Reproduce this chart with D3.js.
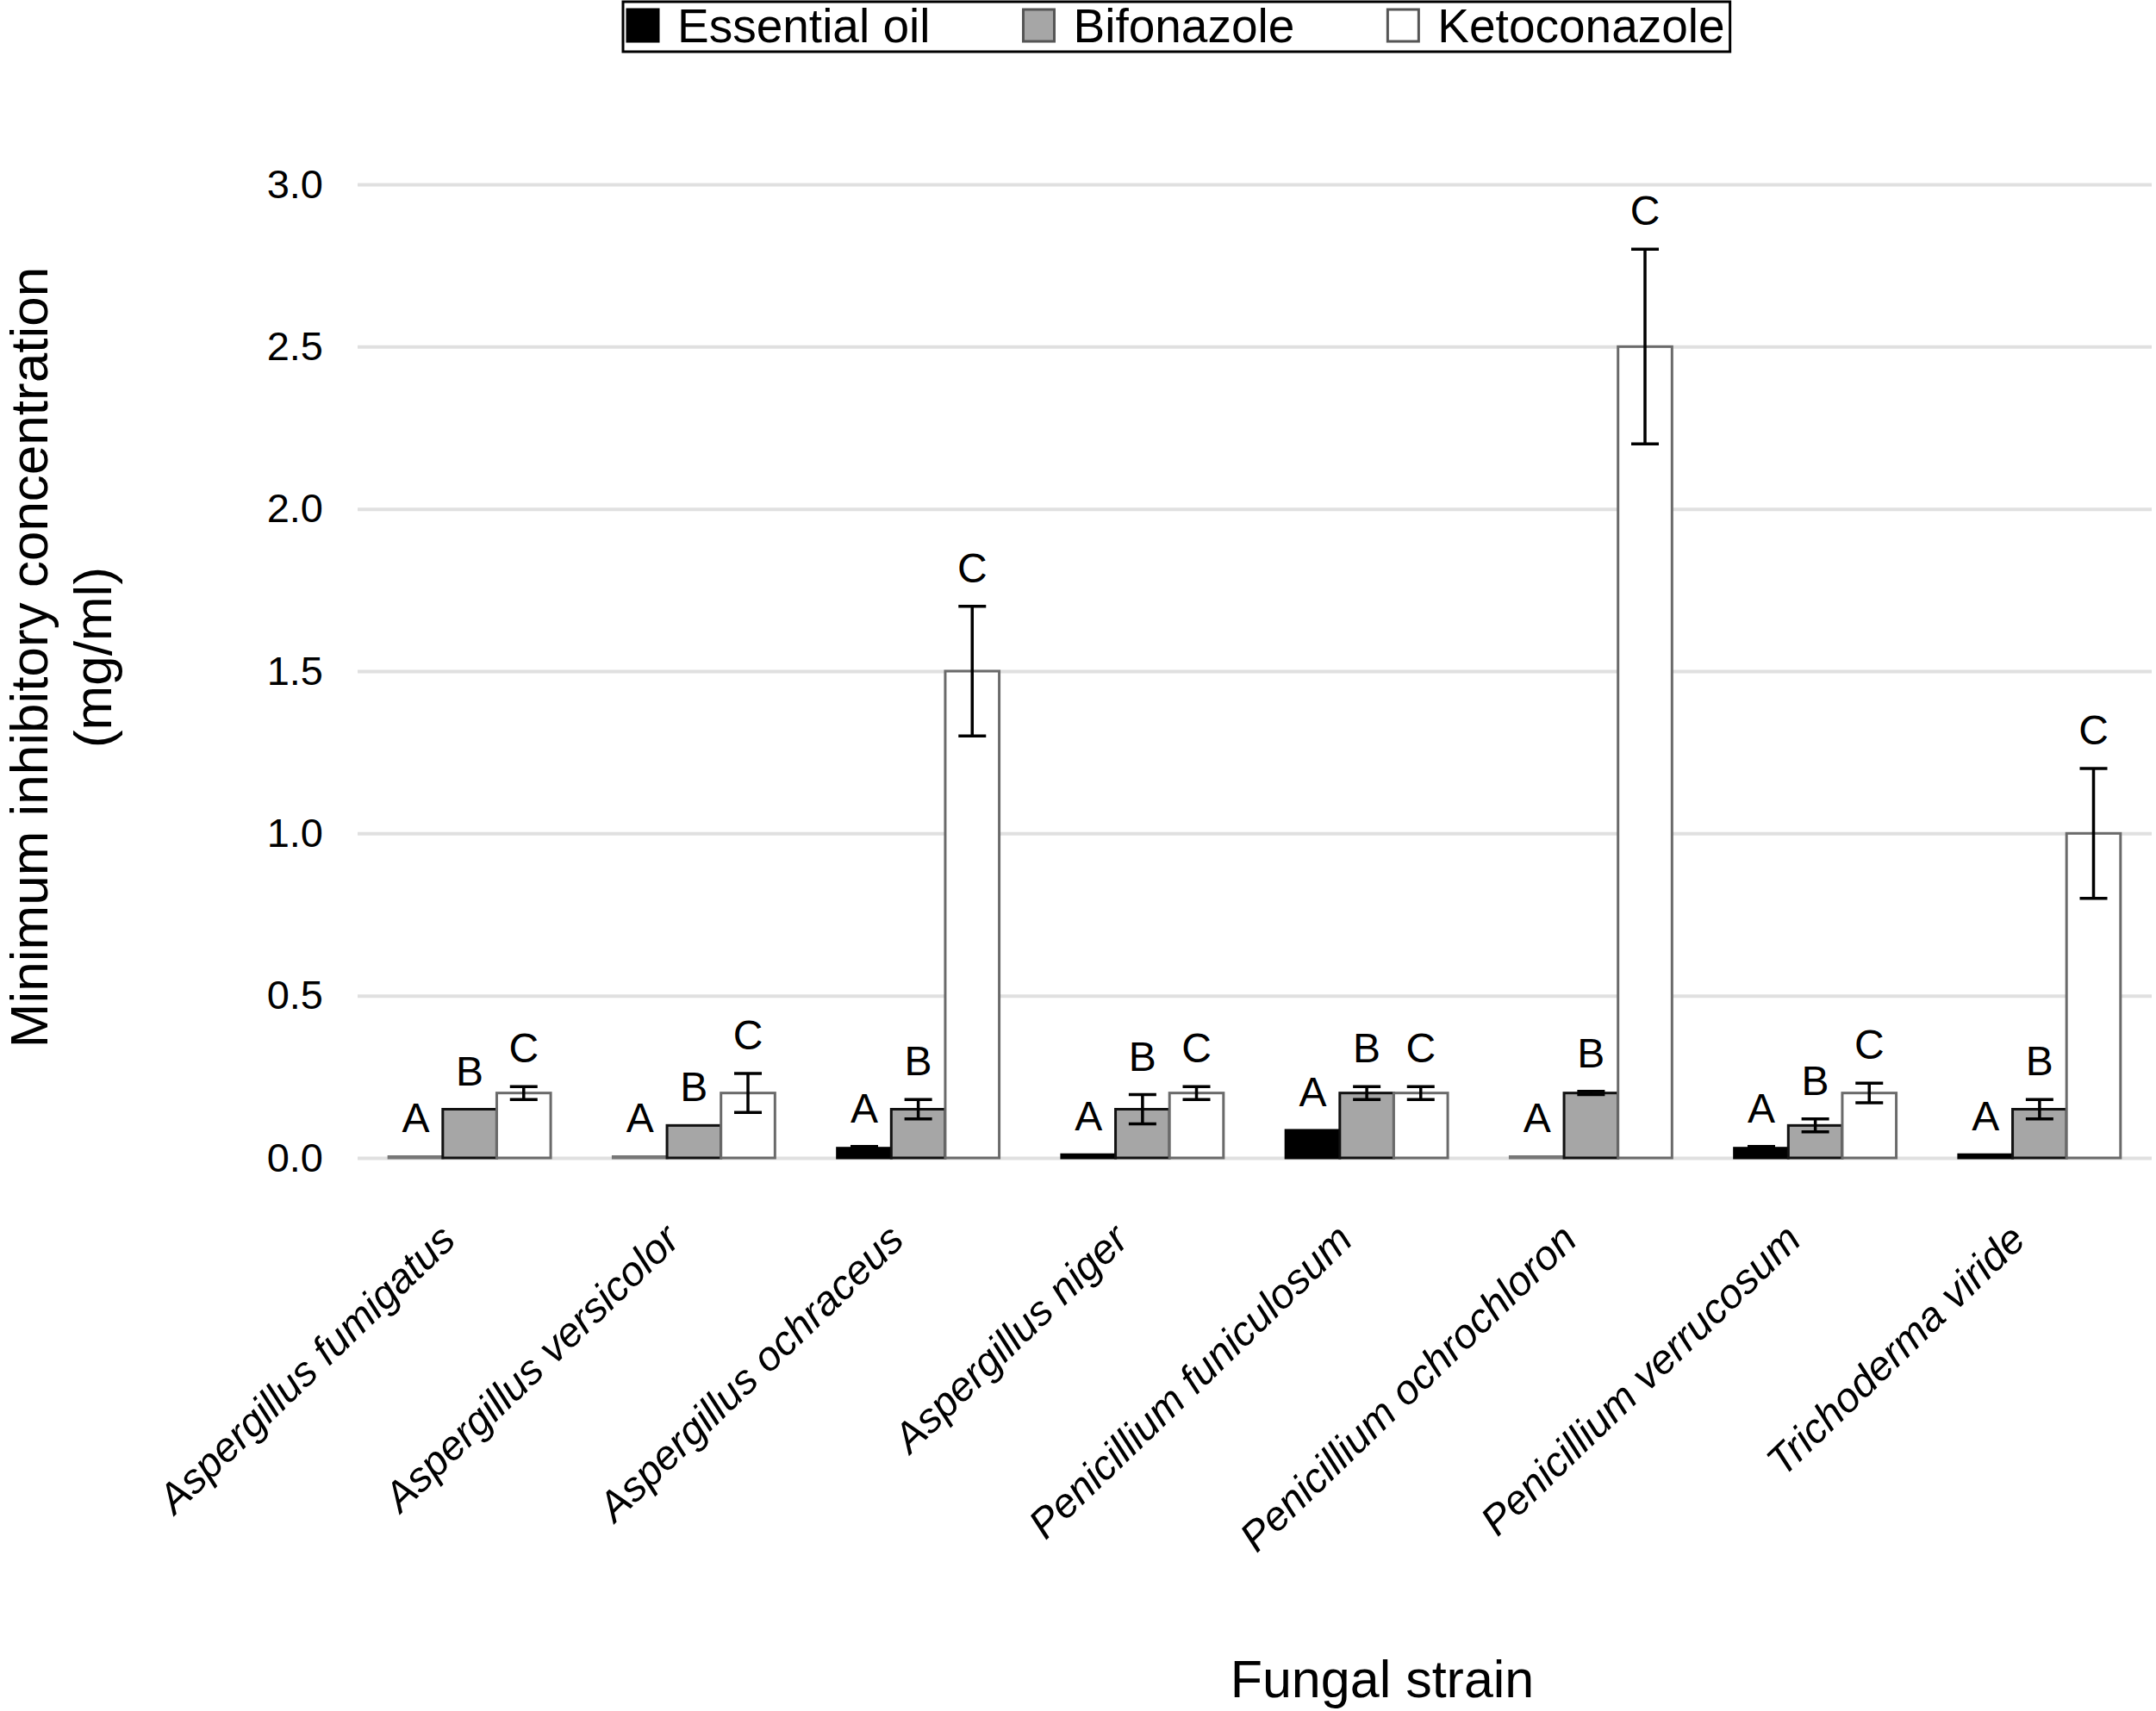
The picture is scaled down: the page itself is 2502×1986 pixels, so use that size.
<!DOCTYPE html>
<html>
<head>
<meta charset="utf-8">
<script src="https://cdn.jsdelivr.net/npm/d3@7"></script>
<style>
  body { margin: 0; background: #fff; }
  text { font-family: "Liberation Sans", Arial, sans-serif; fill: #000; }
</style>
</head>
<body>
<svg width="2502" height="1986"></svg>
<script>
// data
const categories = ['Aspergillus fumigatus', 'Aspergillus versicolor', 'Aspergillus ochraceus', 'Aspergillus niger',
  'Penicillium funiculosum', 'Penicillium ochrochloron', 'Penicillium verrucosum', 'Trichoderma viride']
const series = ['Essential oil', 'Bifonazole', 'Ketoconazole']
const essentialOil = [0.004, 0.004, 0.03, 0.01, 0.085, 0.004, 0.03, 0.01]
const bifonazole = [0.15, 0.1, 0.15, 0.15, 0.2, 0.2, 0.1, 0.15]
const ketoconazole = [0.2, 0.2, 1.5, 0.2, 0.2, 2.5, 0.2, 1.0]
const essentialOilErr = [0, 0, 0.005, 0, 0, 0, 0.005, 0]
const bifonazoleErr = [0, 0, 0.03, 0.045, 0.02, 0.005, 0.02, 0.03]
const ketoconazoleErr = [0.02, 0.06, 0.2, 0.02, 0.02, 0.3, 0.03, 0.2]
const letters = ['A', 'B', 'C']
const yTicks = [0, 0.5, 1.0, 1.5, 2.0, 2.5, 3.0]

const fills = ['#000000', '#a6a6a6', '#ffffff']
const strokes = ['#000000', '#111111', '#6a6a6a']

const svg = d3.select('svg')
const margin = {left: 415, right: 5, top: 214, bottom: 642}
const width = +svg.attr('width') - margin.left - margin.right
const height = +svg.attr('height') - margin.top - margin.bottom

const values = [essentialOil, bifonazole, ketoconazole]
const errors = [essentialOilErr, bifonazoleErr, ketoconazoleErr]
const rows = categories.map((c, i) => series.map((s, j) => ({
  cat: c, s, j, v: values[j][i], e: errors[j][i], letter: letters[j]
})))

const x0 = d3.scaleBand().domain(categories).range([0, width])
  .paddingInner(0.278).paddingOuter(0.139)
const x1 = d3.scaleBand().domain(series).range([0, x0.bandwidth()])
const y = d3.scaleLinear().domain([0, 3]).range([height, 0])

const g = svg.append('g').attr('transform', `translate(${margin.left},${margin.top})`)

// y axis + gridlines
const yAxis = g.append('g')
  .call(d3.axisLeft(y).tickValues(yTicks).tickFormat(d3.format('.1f')).tickSize(-width).tickPadding(40))
yAxis.select('.domain').remove()
yAxis.selectAll('line').attr('stroke', '#e0e0e0').attr('stroke-width', 4)
yAxis.selectAll('text').attr('font-size', 47).style('font-family', '"Liberation Sans", Arial, sans-serif')

// x axis labels
const xAxis = g.append('g').attr('transform', `translate(0,${height})`)
  .call(d3.axisBottom(x0).tickSize(0))
xAxis.select('.domain').remove()
xAxis.selectAll('text')
  .attr('font-size', 48)
  .attr('font-style', 'italic')
  .style('font-family', '"Liberation Sans", Arial, sans-serif')
  .attr('text-anchor', 'end')
  .attr('y', 0).attr('dy', 0)
  .attr('transform', 'translate(-14,98) rotate(-44)')

// bars
const groups = g.selectAll('.grp').data(rows).enter().append('g')
  .attr('class', 'grp')
  .attr('transform', d => `translate(${x0(d[0].cat)},0)`)

groups.selectAll('rect').data(d => d).enter().append('rect')
  .attr('x', d => x1(d.s))
  .attr('y', d => y(d.v))
  .attr('width', x1.bandwidth())
  .attr('height', d => height - y(d.v))
  .attr('fill', d => fills[d.j])
  .attr('stroke', d => d.v < 0.005 ? '#777' : strokes[d.j])
  .attr('stroke-width', 3)

// error bars
const eb = groups.selectAll('.err').data(d => d.filter(r => r.e > 0)).enter().append('g')
  .attr('class', 'err')
  .attr('transform', d => `translate(${x1(d.s) + x1.bandwidth() / 2},0)`)
  .attr('stroke', '#000').attr('stroke-width', 3.5)
eb.append('line').attr('y1', d => y(d.v + d.e)).attr('y2', d => y(d.v - d.e))
eb.append('line').attr('x1', -16).attr('x2', 16).attr('y1', d => y(d.v + d.e)).attr('y2', d => y(d.v + d.e))
eb.append('line').attr('x1', -16).attr('x2', 16).attr('y1', d => y(d.v - d.e)).attr('y2', d => y(d.v - d.e))

// letters above bars
groups.selectAll('.lbl').data(d => d).enter().append('text')
  .attr('class', 'lbl')
  .attr('x', d => x1(d.s) + x1.bandwidth() / 2)
  .attr('y', d => y(d.v + d.e) - 28)
  .attr('text-anchor', 'middle')
  .attr('font-size', 48)
  .text(d => d.letter)

// axis titles
svg.append('text')
  .attr('transform', 'translate(55,763) rotate(-90)')
  .attr('text-anchor', 'middle').attr('font-size', 62)
  .text('Minimum inhibitory concentration')
svg.append('text')
  .attr('transform', 'translate(129,763) rotate(-90)')
  .attr('text-anchor', 'middle').attr('font-size', 62)
  .text('(mg/ml)')
svg.append('text')
  .attr('x', 1604).attr('y', 1970)
  .attr('text-anchor', 'middle').attr('font-size', 61)
  .text('Fungal strain')

// legend
const legend = svg.append('g').attr('transform', 'translate(723,2)')
const box = legend.append('rect').attr('x', 0).attr('y', 0).attr('height', 58)
  .attr('fill', '#fff').attr('stroke', '#000').attr('stroke-width', 3)
let lx = 5
series.forEach((s, j) => {
  legend.append('rect').attr('x', lx).attr('y', 9).attr('width', 36).attr('height', 37)
    .attr('fill', fills[j]).attr('stroke', j === 0 ? '#000' : '#555').attr('stroke-width', 3)
  const t = legend.append('text').attr('x', lx + 58).attr('y', 47).attr('font-size', 55).text(s)
  lx += 58 + t.node().getComputedTextLength() + 108
})
box.attr('width', lx - 108 + 6)
</script>
</body>
</html>
